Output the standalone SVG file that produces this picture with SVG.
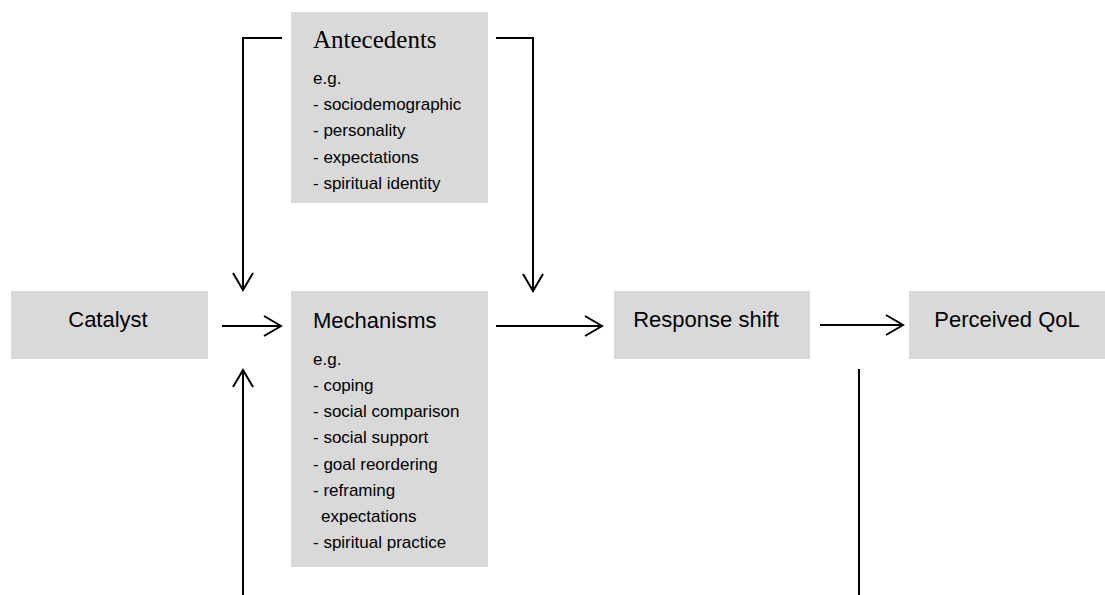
<svg xmlns="http://www.w3.org/2000/svg" width="1105" height="595" viewBox="0 0 1105 595">
<style>
.box{fill:#d9d9d9}
.t{font-family:"Liberation Sans",Arial,sans-serif;font-size:22px;fill:#000}
.s{font-family:"Liberation Serif","Times New Roman",serif;font-size:25px;fill:#000}
.l{font-family:"Liberation Sans",Arial,sans-serif;font-size:17px;fill:#000}
.c{fill:none;stroke:#000;stroke-width:2}
</style>
<defs>
<marker id="arr" markerUnits="userSpaceOnUse" markerWidth="20" markerHeight="22" refX="17" refY="10" orient="auto" overflow="visible">
<path d="M0,0 L17,10 L0,20" fill="none" stroke="#000" stroke-width="2"/>
</marker>
</defs>
<rect width="1105" height="595" fill="#fff"/>
<g id="antecedents">
<rect class="box" x="291" y="12" width="197" height="191"/>
<text class="s" x="313" y="48">Antecedents</text>
<text class="l" x="313" y="84">e.g.</text>
<text class="l" x="313" y="110">- sociodemographic</text>
<text class="l" x="313" y="136">- personality</text>
<text class="l" x="313" y="163">- expectations</text>
<text class="l" x="313" y="189">- spiritual identity</text>
</g>
<g id="catalyst">
<rect class="box" x="11" y="291" width="197" height="68"/>
<text class="t" x="108" y="327" text-anchor="middle">Catalyst</text>
</g>
<g id="mechanisms">
<rect class="box" x="291" y="291" width="197" height="276"/>
<text class="t" x="313" y="328">Mechanisms</text>
<text class="l" x="313" y="365">e.g.</text>
<text class="l" x="313" y="391">- coping</text>
<text class="l" x="313" y="417">- social comparison</text>
<text class="l" x="313" y="443">- social support</text>
<text class="l" x="313" y="470">- goal reordering</text>
<text class="l" x="313" y="496">- reframing</text>
<text class="l" x="321" y="522">expectations</text>
<text class="l" x="313" y="548">- spiritual practice</text>
</g>
<g id="response-shift">
<rect class="box" x="614" y="291" width="196" height="68"/>
<text class="t" x="706" y="327" text-anchor="middle">Response shift</text>
</g>
<g id="perceived-qol">
<rect class="box" x="909" y="291" width="197" height="68"/>
<text class="t" x="1007" y="327" text-anchor="middle">Perceived QoL</text>
</g>
<g id="connectors">
<path class="c" d="M222,326 L281,326" marker-end="url(#arr)"/>
<path class="c" d="M496,326 L602,326" marker-end="url(#arr)"/>
<path class="c" d="M820,325 L903,325" marker-end="url(#arr)"/>
<path class="c" d="M282,38 L243,38 L243,290" marker-end="url(#arr)"/>
<path class="c" d="M496,38 L533,38 L533,291" marker-end="url(#arr)"/>
<path class="c" d="M243,595 L243,370" marker-end="url(#arr)"/>
<path class="c" d="M859,369 L859,595"/>
</g>
</svg>
